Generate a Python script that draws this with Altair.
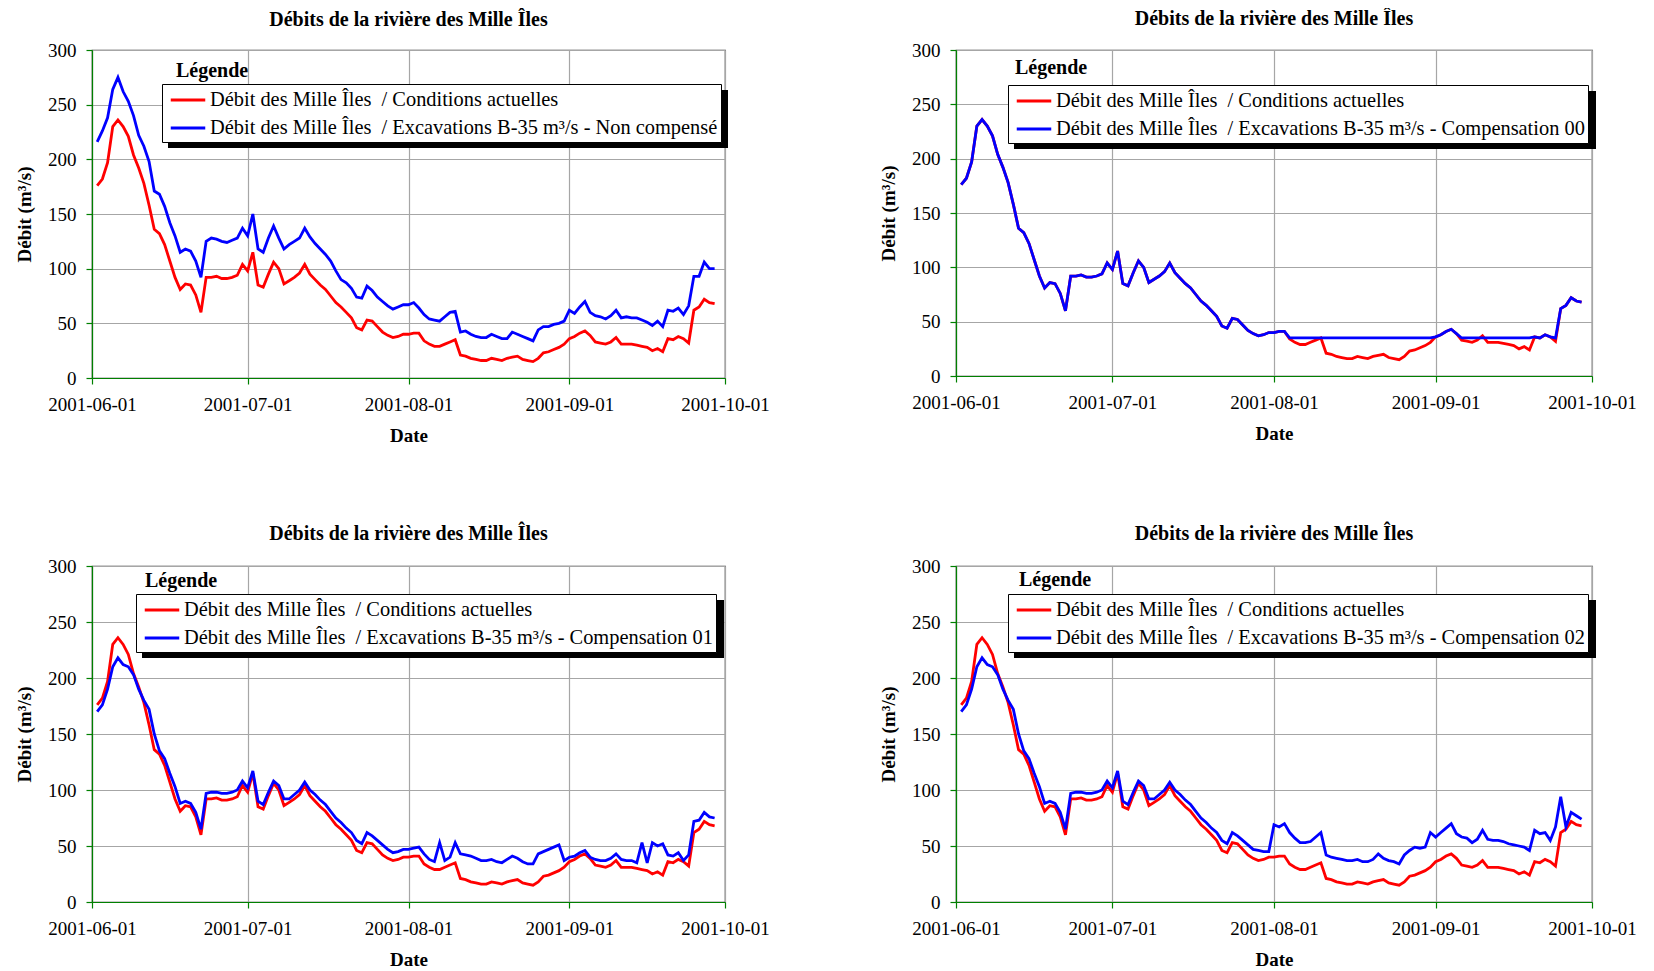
import altair as alt
import pandas as pd

# ---- data (daily, 2001-06-02 .. 2001-09-29) ----
start_date = "2001-06-02"

red_actuel = [176, 182, 197, 230, 236, 230, 221, 204, 192, 178,
              158, 136, 132, 122, 107, 92, 81, 86, 85, 76,
              60, 92, 92, 93, 91, 91, 92, 94, 104, 98,
              115, 85, 83, 95, 106, 100, 86, 89, 92, 96,
              104, 95, 90, 85, 81, 75, 69, 65, 60, 55,
              46, 44, 53, 52, 47, 42, 39, 37, 38, 40,
              40, 41, 41, 34, 31, 29, 29, 31, 33, 35,
              21, 20, 18, 17, 16, 16, 18, 17, 16, 18,
              19, 20, 17, 16, 15, 18, 23, 24, 26, 28,
              31, 36, 38, 41, 43, 39, 33, 32, 31, 33,
              37, 31, 31, 31, 30, 29, 28, 25, 27, 24,
              36, 35, 38, 36, 32, 62, 65, 72, 69, 68]

blue_non_compense = [216, 226, 238, 264, 275, 262, 253, 240, 222, 212,
                     198, 171, 168, 157, 142, 130, 115, 118, 116, 107,
                     92, 125, 128, 127, 125, 124, 126, 128, 137, 130,
                     150, 118, 115, 128, 139, 128, 118, 122, 125, 128,
                     137, 129, 123, 118, 113, 107, 98, 90, 87, 82,
                     74, 73, 84, 80, 74, 70, 66, 63, 65, 67,
                     67, 69, 64, 58, 54, 53, 52, 56, 60, 61,
                     42, 43, 40, 38, 37, 37, 40, 38, 36, 36,
                     42, 40, 38, 36, 34, 44, 47, 47, 49, 50,
                     52, 62, 59, 65, 70, 60, 57, 56, 54, 57,
                     62, 55, 56, 55, 55, 53, 51, 48, 52, 47,
                     62, 61, 64, 58, 66, 93, 93, 106, 100, 100]

blue_comp00 = [176, 182, 197, 230, 236, 230, 221, 204, 192, 178,
               158, 136, 132, 122, 107, 92, 81, 86, 85, 76,
               60, 92, 92, 93, 91, 91, 92, 94, 104, 98,
               115, 85, 83, 95, 106, 100, 86, 89, 92, 96,
               104, 95, 90, 85, 81, 75, 69, 65, 60, 55,
               46, 44, 53, 52, 47, 42, 39, 37, 38, 40,
               40, 41, 41, 35, 35, 35, 35, 35, 35, 35,
               35, 35, 35, 35, 35, 35, 35, 35, 35, 35,
               35, 35, 35, 35, 35, 35, 35, 35, 35, 35,
               35, 36, 38, 41, 43, 39, 35, 35, 35, 35,
               35, 35, 35, 35, 35, 35, 35, 35, 35, 35,
               36, 35, 38, 36, 35, 62, 65, 72, 69, 68]

blue_comp01 = [170, 176, 190, 210, 218, 212, 210, 203, 190, 180,
               172, 150, 135, 128, 115, 103, 88, 90, 88, 80,
               65, 97, 98, 98, 97, 97, 98, 100, 108, 102,
               117, 90, 87, 98, 108, 104, 92, 92, 96, 100,
               107, 100, 96, 91, 87, 81, 75, 71, 66, 62,
               55, 52, 62, 59, 55, 51, 47, 44, 45, 47,
               47, 48, 49, 43, 38, 36, 53, 37, 40, 53,
               43, 42, 41, 39, 37, 37, 38, 36, 35, 38,
               41, 39, 36, 34, 34, 43, 45, 47, 49, 51,
               37, 40, 41, 44, 46, 40, 38, 37, 37, 39,
               43, 38, 37, 37, 35, 53, 35, 53, 50, 52,
               42, 41, 44, 37, 42, 72, 73, 80, 76, 75]

blue_comp02 = [170, 176, 190, 210, 218, 212, 210, 203, 190, 180,
               172, 150, 135, 128, 115, 103, 88, 90, 88, 80,
               65, 97, 98, 98, 97, 97, 98, 100, 108, 102,
               117, 90, 87, 98, 108, 104, 92, 92, 96, 100,
               107, 100, 96, 91, 87, 81, 75, 71, 66, 62,
               55, 52, 62, 59, 55, 51, 47, 46, 45, 45,
               69, 67, 70, 62, 57, 53, 53, 54, 58, 62,
               42, 40, 39, 38, 37, 37, 38, 36, 36, 38,
               43, 39, 37, 36, 34, 42, 46, 49, 48, 49,
               62, 58, 62, 66, 70, 61, 58, 57, 53, 56,
               64, 56, 55, 55, 54, 52, 51, 50, 49, 46,
               64, 61, 62, 55, 67, 94, 67, 80, 77, 74]

label_red = "Débit des Mille Îles\u00a0\u00a0/ Conditions actuelles"
label_prefix = "Débit des Mille Îles\u00a0\u00a0/ Excavations B-35 m³/s - "
blue_suffixes = ["Non compensé", "Compensation 00", "Compensation 01", "Compensation 02"]
y_ticks = [0, 50, 100, 150, 200, 250, 300]
x_ticks = [(2001, 6), (2001, 7), (2001, 8), (2001, 9), (2001, 10)]

FONT = "Liberation Serif"
dates = pd.date_range(start_date, periods=len(red_actuel), freq="D").strftime("%Y-%m-%d").tolist()

LEG = dict(symbolType="M-1.5,0H1.5", symbolSize=529, padding=3, rowPadding=4,
           symbolOffset=10, labelOffset=9)


def panel(blue, suffix, w, h, leg_x, leg_y, box_w, box_h, txt_x, txt_y, title_offset):
    blue_label = label_prefix + suffix
    df_red = pd.DataFrame({"Date": dates, "v": red_actuel, "s": label_red})
    df_blue = pd.DataFrame({"Date": dates, "v": blue, "s": blue_label})
    color = alt.Color(
        "s:N",
        scale=alt.Scale(domain=[label_red, blue_label], range=["#ff0000", "#0000ff"]),
        legend=alt.Legend(
            title=None, orient="none", legendX=leg_x, legendY=leg_y,
            strokeColor="black", fillColor="white",
            labelFont=FONT, labelFontSize=20.4, labelColor="black", labelLimit=0,
            symbolStrokeWidth=2.8, **LEG,
        ),
    )
    x = alt.X(
        "Date:T",
        scale=alt.Scale(type="utc",
                        domain=[alt.DateTime(year=2001, month=6, date=1, utc=True),
                                alt.DateTime(year=2001, month=10, date=1, utc=True)]),
        axis=alt.Axis(title="Date",
                      values=[alt.DateTime(year=yy, month=mm, date=1, utc=True) for yy, mm in x_ticks],
                      labelExpr="utcFormat(datum.value, '%Y-%m-%d')",
                      labelFlush=False, labelOverlap=False,
                      labelPadding=11, titlePadding=12),
    )
    y = alt.Y("v:Q", scale=alt.Scale(domain=[0, 300], nice=False),
              axis=alt.Axis(title="Débit (m³/s)", values=y_ticks, labelPadding=10, titlePadding=13))
    red_line = alt.Chart(df_red).mark_line(strokeWidth=2.8).encode(x=x, y=y, color=color)
    blue_line = alt.Chart(df_blue).mark_line(strokeWidth=2.8).encode(x=x, y=y, color=color)
    one = pd.DataFrame({"t": ["Légende"]})
    shadow = alt.Chart(one).mark_rect(color="black").encode(
        x=alt.value(leg_x + 6), x2=alt.value(leg_x + box_w + 5),
        y=alt.value(leg_y + 6), y2=alt.value(leg_y + box_h + 5))
    txt = alt.Chart(one).mark_text(align="left", baseline="middle", font=FONT, fontSize=20,
                                   fontWeight="bold", color="black").encode(
        x=alt.value(txt_x), y=alt.value(txt_y), text="t:N")
    return alt.layer(shadow, red_line, blue_line, txt).properties(
        width=w, height=h,
        title=alt.TitleParams("Débits de la rivière des Mille Îles", font=FONT, fontSize=20,
                              fontWeight="bold", anchor="middle", offset=title_offset, color="black"),
    )


p1 = panel(blue_non_compense, blue_suffixes[0], 633, 328, 70, 34, 561, 59, 84, 21, 11)
p2 = panel(blue_comp00, blue_suffixes[1], 636, 326, 52, 35, 583, 59, 59, 18, 12)
p3 = panel(blue_comp01, blue_suffixes[2], 633, 336, 44, 28, 583, 59, 53, 15, 13)
p4 = panel(blue_comp02, blue_suffixes[3], 636, 336, 52, 28, 583, 59, 63, 14, 13)

chart = alt.vconcat(
    alt.hconcat(p1, p2, spacing=108).resolve_scale(color="independent"),
    alt.hconcat(p3, p4, spacing=108).resolve_scale(color="independent"),
    spacing=77,
).resolve_scale(
    color="independent"
).properties(
    padding={"left": 6, "top": 0, "right": 0, "bottom": 0}
).configure_view(
    stroke="#333333", strokeWidth=1.2
).configure_axis(
    labelFont=FONT, labelFontSize=19, labelColor="black",
    titleFont=FONT, titleFontSize=19, titleFontWeight="bold", titleColor="black",
    domainColor="#008000", domainWidth=1.2, tickColor="#008000", tickSize=6, tickWidth=1.2,
    gridColor="#a6a6a6", gridWidth=1.2,
).configure_axisX(grid=True).configure_axisY(grid=True)

chart.save("out.html", embed_options={"renderer": "svg", "actions": False})
